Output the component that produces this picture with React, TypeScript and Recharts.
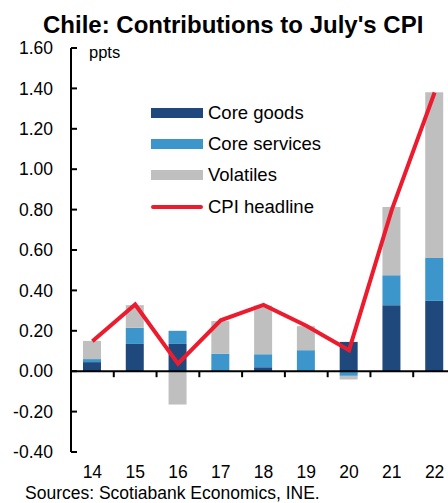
import React from 'react';
import { ComposedChart, Bar, Line, XAxis, YAxis, ReferenceLine } from 'recharts';

// July of each year (20xx)
const months = ['14', '15', '16', '17', '18', '19', '20', '21', '22'];
const coreGoods = [0.045, 0.135, 0.135, 0, 0.02, 0, 0.145, 0.327, 0.348];
const coreServices = [0.015, 0.08, 0.065, 0.087, 0.064, 0.104, -0.023, 0.148, 0.213];
const volatiles = [0.09, 0.112, -0.165, 0.161, 0.241, 0.119, -0.018, 0.338, 0.82];
const cpiHeadline = [0.148, 0.33, 0.037, 0.252, 0.328, 0.225, 0.104, 0.8, 1.38];
const yTicks = [-0.4, -0.2, 0, 0.2, 0.4, 0.6, 0.8, 1.0, 1.2, 1.4, 1.6];

const data = months.map((m, i) => ({
  month: m,
  coreGoods: coreGoods[i],
  coreServices: coreServices[i],
  volatiles: volatiles[i],
  cpi: cpiHeadline[i],
}));

const FONT = '"Liberation Sans", Arial, sans-serif';

const legendItems = [
  { label: 'Core goods', color: '#1F497D', kind: 'bar' },
  { label: 'Core services', color: '#3D96CB', kind: 'bar' },
  { label: 'Volatiles', color: '#BFBFBF', kind: 'bar' },
  { label: 'CPI headline', color: '#EC1C2E', kind: 'line' },
];

// zero line with tick marks between categories
const ZeroAxis = (props: any) => {
  const { x1, x2, y1 } = props;
  const step = (x2 - x1) / months.length;
  return (
    <g>
      <line x1={x1} x2={x2} y1={y1} y2={y1} stroke="#000" strokeWidth={2} />
      {months.slice(1).map((_, i) => {
        const x = x1 + step * (i + 1);
        return <line key={i} x1={x} x2={x} y1={y1} y2={y1 + 6} stroke="#000" strokeWidth={2} />;
      })}
    </g>
  );
};

const App: React.FC = () => {
  return (
    <div
      style={{
        position: 'absolute',
        left: 0,
        top: 0,
        width: 448,
        height: 503,
        overflow: 'hidden',
        background: '#fff',
        fontFamily: FONT,
      }}
    >
      <div
        style={{
          position: 'absolute',
          left: 43,
          top: 13,
          fontSize: 24,
          lineHeight: '24px',
          fontWeight: 'bold',
          whiteSpace: 'nowrap',
        }}
      >
        Chile: Contributions to July's CPI
      </div>

      <div style={{ position: 'absolute', left: 0, top: 0 }}>
        <ComposedChart
          width={470}
          height={503}
          data={data}
          stackOffset="sign"
          margin={{ top: 48, right: 14, bottom: 0, left: 0 }}
        >
          <XAxis
            dataKey="month"
            axisLine={false}
            tickLine={false}
            tickSize={0}
            tickMargin={14}
            height={51}
            interval={0}
            tick={{ fill: '#000', fontSize: 17.5, fontFamily: FONT }}
          />
          <YAxis
            domain={[-0.4, 1.6]}
            ticks={yTicks}
            width={71}
            interval={0}
            allowDataOverflow
            tickFormatter={(v: number) => v.toFixed(2)}
            axisLine={{ stroke: '#000', strokeWidth: 2 }}
            tickLine={{ stroke: '#000', strokeWidth: 2 }}
            tickSize={-6}
            tickMargin={24}
            tick={{ fill: '#000', fontSize: 17.5, fontFamily: FONT }}
          />
          <Bar dataKey="coreGoods" name="Core goods" stackId="a" fill="#1F497D" barSize={18} isAnimationActive={false} />
          <Bar dataKey="coreServices" name="Core services" stackId="a" fill="#3D96CB" barSize={18} isAnimationActive={false} />
          <Bar dataKey="volatiles" name="Volatiles" stackId="a" fill="#BFBFBF" barSize={18} isAnimationActive={false} />
          <ReferenceLine y={0} shape={ZeroAxis} />
          <Line
            dataKey="cpi"
            name="CPI headline"
            type="linear"
            stroke="#EC1C2E"
            strokeWidth={4}
            dot={false}
            activeDot={false}
            isAnimationActive={false}
          />
        </ComposedChart>
      </div>

      {/* legend */}
      <div style={{ position: 'absolute', left: 151, top: 97, fontSize: 18.5, color: '#000' }}>
        {legendItems.map((item) => (
          <div key={item.label} style={{ display: 'flex', alignItems: 'center', height: 31.3 }}>
            <div
              style={{
                width: 52,
                height: item.kind === 'line' ? 4 : 10,
                background: item.color,
                borderRadius: item.kind === 'line' ? 2 : 0,
                marginRight: 5,
              }}
            />
            <span style={{ whiteSpace: 'nowrap' }}>{item.label}</span>
          </div>
        ))}
      </div>

      <div style={{ position: 'absolute', left: 89, top: 44, fontSize: 16.5, lineHeight: '16px' }}>ppts</div>

      <div
        style={{
          position: 'absolute',
          left: 25,
          top: 485,
          fontSize: 17.5,
          lineHeight: '17px',
          whiteSpace: 'nowrap',
        }}
      >
        Sources: Scotiabank Economics, INE.
      </div>
    </div>
  );
};

export default App;
